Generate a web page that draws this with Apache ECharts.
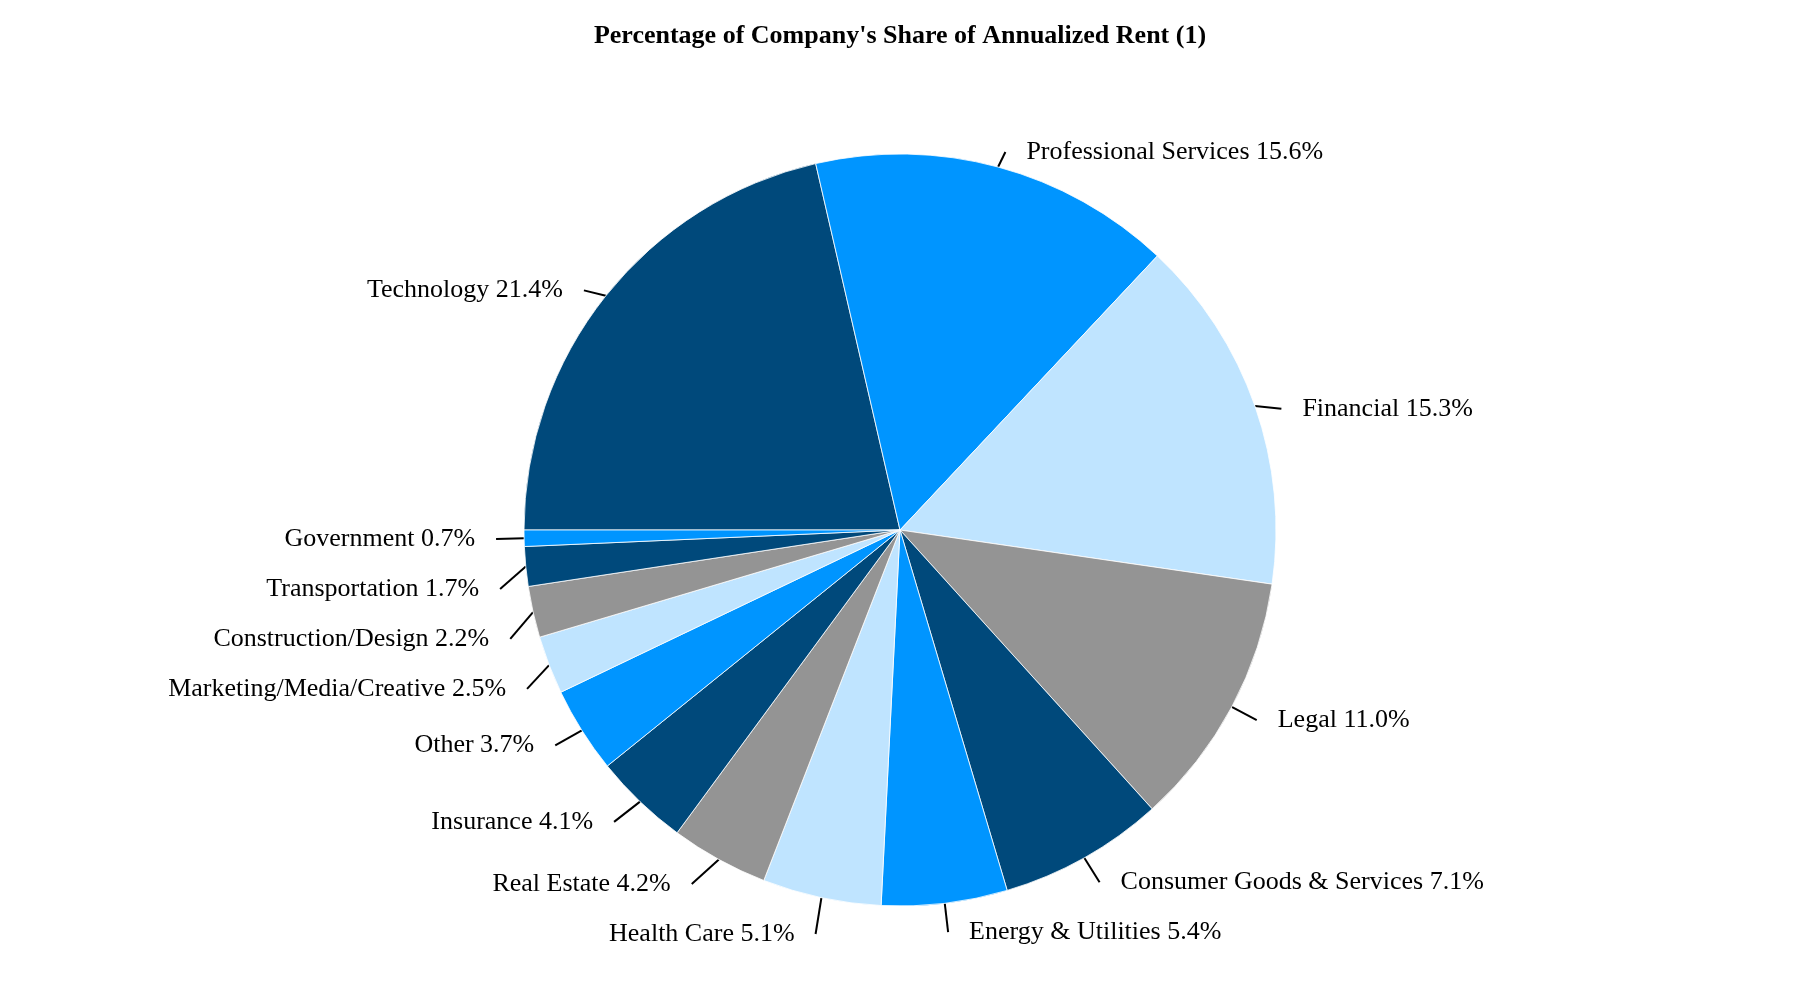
<!DOCTYPE html>
<html>
<head>
<meta charset="utf-8">
<script src="https://cdn.jsdelivr.net/npm/echarts@6.0.0/dist/echarts.min.js"></script>
<style>
html, body { margin: 0; padding: 0; background: #ffffff; }
#chart { width: 1800px; height: 1000px; }
</style>
</head>
<body>
<div id="chart"></div>
<script>
// Data, listed clockwise starting at 9 o'clock
const titleText = "Percentage of Company's Share of Annualized Rent (1)";
const categories = [
  'Technology', 'Professional Services', 'Financial', 'Legal',
  'Consumer Goods & Services', 'Energy & Utilities', 'Health Care',
  'Real Estate', 'Insurance', 'Other', 'Marketing/Media/Creative',
  'Construction/Design', 'Transportation', 'Government'
];
const shares = [21.4, 15.6, 15.3, 11.0, 7.1, 5.4, 5.1, 4.2, 4.1, 3.7, 2.5, 2.2, 1.7, 0.7];
const palette = ['#00497B', '#0095FF', '#BFE4FF', '#949494'];

const pieCenter = [900, 530];
const upperLabelDrop = 12; // labels above the centre sit a little lower in the reference

const pieData = categories.map((name, i) => ({ name: name, value: shares[i] }));

const chart = echarts.init(document.getElementById('chart'), null, { renderer: 'canvas' });
chart.setOption({
  animation: false,
  backgroundColor: '#ffffff',
  color: palette,
  title: {
    text: titleText,
    left: 'center',
    top: 18,
    textStyle: {
      fontFamily: 'Liberation Serif, Times New Roman, serif',
      fontSize: 26,
      fontWeight: 'bold',
      color: '#000000'
    }
  },
  series: [{
    type: 'pie',
    center: pieCenter,
    radius: 376,
    startAngle: 180,
    clockwise: true,
    avoidLabelOverlap: true,
    data: pieData,
    itemStyle: { borderColor: '#ffffff', borderWidth: 0.8 },
    emphasis: { disabled: true },
    label: {
      show: true,
      position: 'outside',
      alignTo: 'none',
      distanceToLabelLine: 0,
      padding: [0, 21],
      lineHeight: 48,
      fontFamily: 'Liberation Serif, Times New Roman, serif',
      fontSize: 26,
      color: '#000000',
      bleedMargin: 5,
      formatter: p => p.name + ' ' + p.value.toFixed(1) + '%'
    },
    labelLine: {
      show: true,
      length: 28,
      length2: 0,
      smooth: false,
      lineStyle: { color: '#000000', width: 2 }
    },
    labelLayout: function (params) {
      const pts = params.labelLinePoints;
      if (!pts || !pts.length) return {};
      const start = pts[0];
      if (start[1] >= pieCenter[1]) return {};
      const moved = pts.map((p, k) => k === 0 ? [p[0], p[1]] : [p[0], p[1] + upperLabelDrop]);
      return { dy: upperLabelDrop, labelLinePoints: moved };
    }
  }]
});
</script>
</body>
</html>
